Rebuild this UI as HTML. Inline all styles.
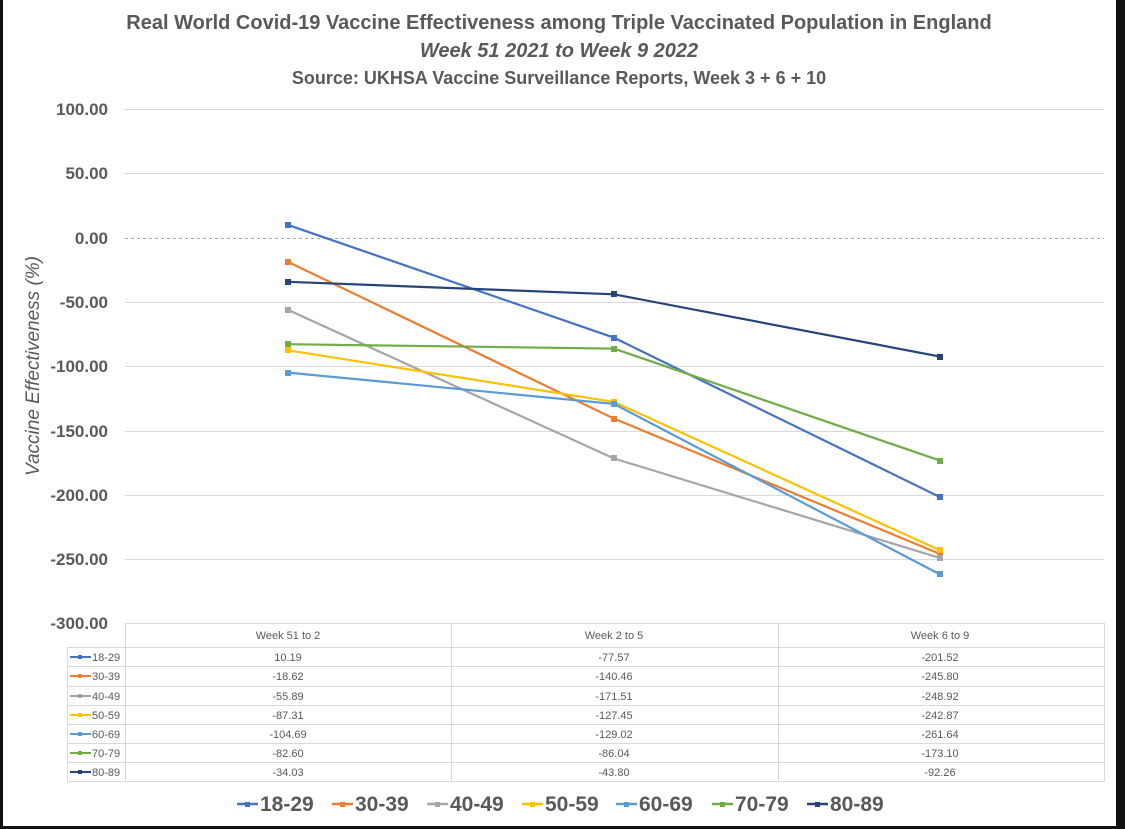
<!DOCTYPE html>
<html><head><meta charset="utf-8"><style>
html,body{margin:0;padding:0;background:#fff;}
svg{display:block;font-family:"Liberation Sans",sans-serif;}
</style></head><body>
<svg width="1125" height="829" viewBox="0 0 1125 829" xmlns="http://www.w3.org/2000/svg">
<rect x="0" y="0" width="1125" height="829" fill="#fff"/>
<rect x="0" y="0" width="3" height="829" fill="#111"/>
<rect x="1116" y="0" width="9" height="829" fill="#111"/>
<rect x="0" y="826" width="1125" height="3" fill="#111"/>
<g fill="#595959" font-weight="bold" text-anchor="middle">
<text x="559" y="29" font-size="20">Real World Covid-19 Vaccine Effectiveness among Triple Vaccinated Population in England</text>
<text x="559" y="57" font-size="20" font-style="italic">Week 51 2021 to Week 9 2022</text>
<text x="559" y="84" font-size="18">Source: UKHSA Vaccine Surveillance Reports, Week 3 + 6 + 10</text>
</g>
<g stroke="#d9d9d9" stroke-width="1">
<line x1="125" x2="1104" y1="109.5" y2="109.5"/>
<line x1="125" x2="1104" y1="173.5" y2="173.5"/>
<line x1="125" x2="1104" y1="302.5" y2="302.5"/>
<line x1="125" x2="1104" y1="366.5" y2="366.5"/>
<line x1="125" x2="1104" y1="431.5" y2="431.5"/>
<line x1="125" x2="1104" y1="495.5" y2="495.5"/>
<line x1="125" x2="1104" y1="559.5" y2="559.5"/>
</g>
<line x1="125" x2="1104" y1="238.5" y2="238.5" stroke="#a6a6a6" stroke-dasharray="3,3"/>
<g fill="#595959" font-weight="bold" font-size="17" text-anchor="end">
<text x="108" y="115">100.00</text>
<text x="108" y="179">50.00</text>
<text x="108" y="244">0.00</text>
<text x="108" y="308">-50.00</text>
<text x="108" y="372">-100.00</text>
<text x="108" y="437">-150.00</text>
<text x="108" y="501">-200.00</text>
<text x="108" y="565">-250.00</text>
<text x="108" y="629">-300.00</text>
</g>
<text transform="translate(39,366) rotate(-90)" text-anchor="middle" fill="#595959" font-size="19" font-style="italic">Vaccine Effectiveness (%)</text>
<g fill="none" stroke-width="2.2">
<polyline stroke="#4472C4" points="288,224.9 614,337.7 940,497.1"/>
<polyline stroke="#ED7D31" points="288,261.9 614,418.6 940,554.0"/>
<polyline stroke="#A5A5A5" points="288,309.9 614,458.5 940,558.0"/>
<polyline stroke="#FFC000" points="288,350.3 614,401.9 940,550.3"/>
<polyline stroke="#5B9BD5" points="288,372.6 614,403.9 940,574.4"/>
<polyline stroke="#70AD47" points="288,344.2 614,348.6 940,460.6"/>
<polyline stroke="#264478" points="288,281.8 614,294.3 940,356.6"/>
</g>
<g>
<g fill="#4472C4"><rect x="285" y="222" width="6" height="6"/><rect x="611" y="335" width="6" height="6"/><rect x="937" y="494" width="6" height="6"/></g>
<g fill="#ED7D31"><rect x="285" y="259" width="6" height="6"/><rect x="611" y="416" width="6" height="6"/><rect x="937" y="551" width="6" height="6"/></g>
<g fill="#A5A5A5"><rect x="285" y="307" width="6" height="6"/><rect x="611" y="455" width="6" height="6"/><rect x="937" y="555" width="6" height="6"/></g>
<g fill="#FFC000"><rect x="285" y="347" width="6" height="6"/><rect x="611" y="399" width="6" height="6"/><rect x="937" y="547" width="6" height="6"/></g>
<g fill="#5B9BD5"><rect x="285" y="370" width="6" height="6"/><rect x="611" y="401" width="6" height="6"/><rect x="937" y="571" width="6" height="6"/></g>
<g fill="#70AD47"><rect x="285" y="341" width="6" height="6"/><rect x="611" y="346" width="6" height="6"/><rect x="937" y="458" width="6" height="6"/></g>
<g fill="#264478"><rect x="285" y="279" width="6" height="6"/><rect x="611" y="291" width="6" height="6"/><rect x="937" y="354" width="6" height="6"/></g>
</g>
<!-- table -->
<g stroke="#d9d9d9" stroke-width="1" fill="none">
<line x1="125.5" x2="1104" y1="623.5" y2="623.5"/>
<line x1="67" x2="1104" y1="647.5" y2="647.5"/>
<line x1="67" x2="1104" y1="666.5" y2="666.5"/>
<line x1="67" x2="1104" y1="686.5" y2="686.5"/>
<line x1="67" x2="1104" y1="705.5" y2="705.5"/>
<line x1="67" x2="1104" y1="724.5" y2="724.5"/>
<line x1="67" x2="1104" y1="743.5" y2="743.5"/>
<line x1="67" x2="1104" y1="762.5" y2="762.5"/>
<line x1="67" x2="1104" y1="781.5" y2="781.5"/>
<line x1="67.5" x2="67.5" y1="647" y2="782"/>
<line x1="125.5" x2="125.5" y1="623" y2="782"/>
<line x1="451.5" x2="451.5" y1="623" y2="782"/>
<line x1="778.5" x2="778.5" y1="623" y2="782"/>
<line x1="1104.5" x2="1104.5" y1="623" y2="782"/>
</g>
<g fill="#595959" font-size="11" text-anchor="middle">
<text x="288" y="639">Week 51 to 2</text><text x="614" y="639">Week 2 to 5</text><text x="940" y="639">Week 6 to 9</text>
<text x="288" y="661">10.19</text><text x="614" y="661">-77.57</text><text x="940" y="661">-201.52</text>
<text x="288" y="680">-18.62</text><text x="614" y="680">-140.46</text><text x="940" y="680">-245.80</text>
<text x="288" y="700">-55.89</text><text x="614" y="700">-171.51</text><text x="940" y="700">-248.92</text>
<text x="288" y="719">-87.31</text><text x="614" y="719">-127.45</text><text x="940" y="719">-242.87</text>
<text x="288" y="738">-104.69</text><text x="614" y="738">-129.02</text><text x="940" y="738">-261.64</text>
<text x="288" y="757">-82.60</text><text x="614" y="757">-86.04</text><text x="940" y="757">-173.10</text>
<text x="288" y="776">-34.03</text><text x="614" y="776">-43.80</text><text x="940" y="776">-92.26</text>
</g>
<g font-size="11" fill="#595959">
<text x="92" y="661">18-29</text><text x="92" y="680">30-39</text><text x="92" y="700">40-49</text><text x="92" y="719">50-59</text><text x="92" y="738">60-69</text><text x="92" y="757">70-79</text><text x="92" y="776">80-89</text>
</g>
<g stroke-width="2">
<line x1="70" x2="91" y1="657" y2="657" stroke="#4472C4"/>
<line x1="70" x2="91" y1="676" y2="676" stroke="#ED7D31"/>
<line x1="70" x2="91" y1="696" y2="696" stroke="#A5A5A5"/>
<line x1="70" x2="91" y1="715" y2="715" stroke="#FFC000"/>
<line x1="70" x2="91" y1="734" y2="734" stroke="#5B9BD5"/>
<line x1="70" x2="91" y1="753" y2="753" stroke="#70AD47"/>
<line x1="70" x2="91" y1="772" y2="772" stroke="#264478"/>
</g>
<g>
<rect x="78" y="655" width="4" height="4" fill="#4472C4"/><rect x="78" y="674" width="4" height="4" fill="#ED7D31"/><rect x="78" y="694" width="4" height="4" fill="#A5A5A5"/><rect x="78" y="713" width="4" height="4" fill="#FFC000"/><rect x="78" y="732" width="4" height="4" fill="#5B9BD5"/><rect x="78" y="751" width="4" height="4" fill="#70AD47"/><rect x="78" y="770" width="4" height="4" fill="#264478"/>
</g>
<!-- legend -->
<g stroke-width="2.5">
<line x1="237" x2="258" y1="804" y2="804" stroke="#4472C4"/>
<line x1="332" x2="353" y1="804" y2="804" stroke="#ED7D31"/>
<line x1="427" x2="448" y1="804" y2="804" stroke="#A5A5A5"/>
<line x1="522" x2="543" y1="804" y2="804" stroke="#FFC000"/>
<line x1="616" x2="637" y1="804" y2="804" stroke="#5B9BD5"/>
<line x1="712" x2="733" y1="804" y2="804" stroke="#70AD47"/>
<line x1="807" x2="828" y1="804" y2="804" stroke="#264478"/>
</g>
<g>
<rect x="245" y="802" width="5" height="5" fill="#4472C4"/><rect x="340" y="802" width="5" height="5" fill="#ED7D31"/><rect x="435" y="802" width="5" height="5" fill="#A5A5A5"/><rect x="530" y="802" width="5" height="5" fill="#FFC000"/><rect x="624" y="802" width="5" height="5" fill="#5B9BD5"/><rect x="720" y="802" width="5" height="5" fill="#70AD47"/><rect x="815" y="802" width="5" height="5" fill="#264478"/>
</g>
<g fill="#595959" font-weight="bold" font-size="21">
<text x="260" y="811">18-29</text><text x="355" y="811">30-39</text><text x="450" y="811">40-49</text><text x="545" y="811">50-59</text><text x="639" y="811">60-69</text><text x="735" y="811">70-79</text><text x="830" y="811">80-89</text>
</g>
</svg>
</body></html>
